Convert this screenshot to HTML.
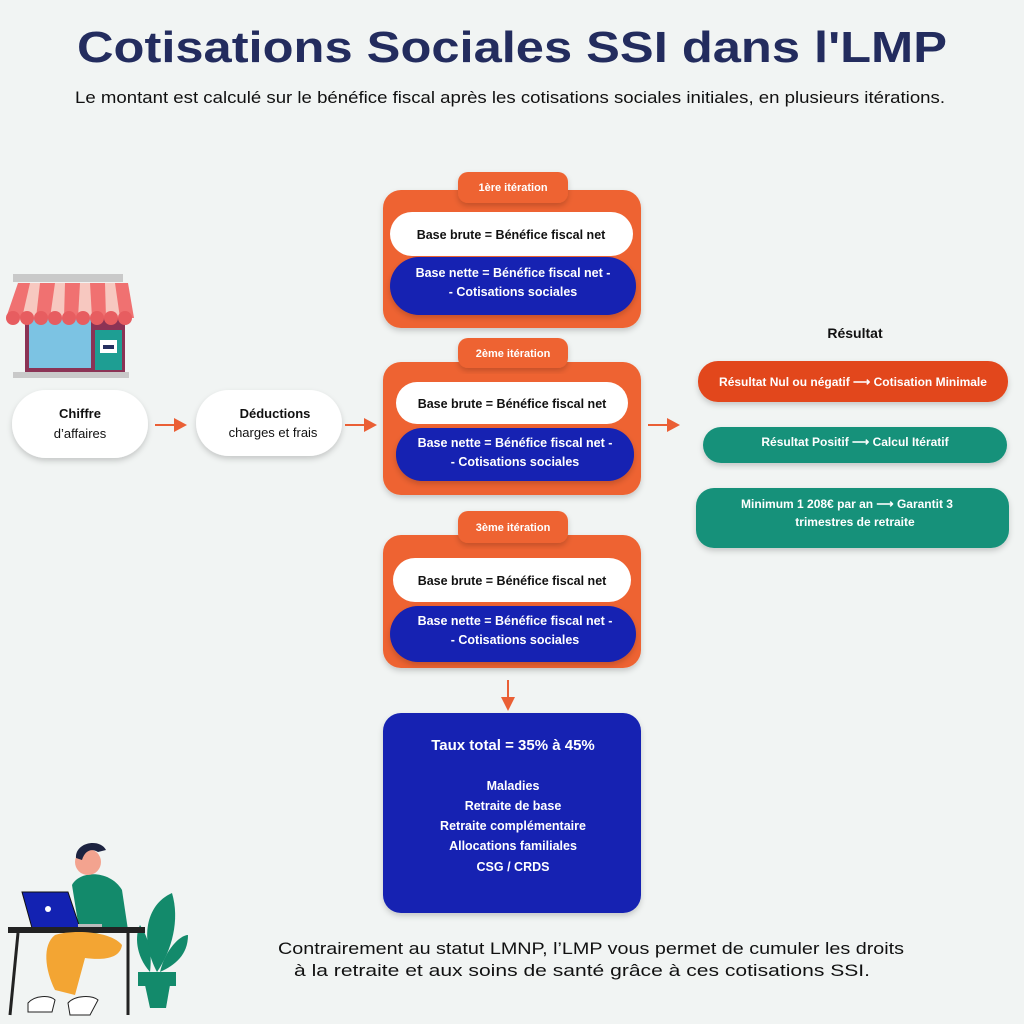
<!DOCTYPE html>
<html><head><meta charset="utf-8"><style>
html,body{margin:0;padding:0;background:#f1f4f3}
svg{display:block}
text{font-family:"Liberation Sans",sans-serif}
</style></head><body>
<svg width="1024" height="1024" viewBox="0 0 1024 1024" xmlns="http://www.w3.org/2000/svg">
<defs>
<filter id="sh" x="-10%" y="-10%" width="120%" height="130%"><feDropShadow dx="0" dy="3" stdDeviation="3" flood-color="#000" flood-opacity="0.18"/></filter>
</defs>
<rect width="1024" height="1024" fill="#f1f4f3"/>
<text x="512" y="62" text-anchor="middle" font-size="44" font-weight="bold" fill="#232c5e" textLength="870" lengthAdjust="spacingAndGlyphs">Cotisations Sociales SSI dans l'LMP</text>
<text x="510" y="103" text-anchor="middle" font-size="17" fill="#111" textLength="870" lengthAdjust="spacingAndGlyphs">Le montant est calculé sur le bénéfice fiscal après les cotisations sociales initiales, en plusieurs itérations.</text>

<!-- shop -->
<rect x="13" y="274" width="110" height="8" fill="#c9c9c9"/>
<rect x="25" y="305" width="100" height="68" fill="#8b3355"/>
<rect x="29" y="318" width="62" height="50" fill="#7cc3e3"/>
<rect x="95" y="330" width="27" height="40" fill="#1e9e93"/>
<rect x="100" y="340" width="17" height="13" fill="#fff"/><rect x="103" y="345" width="11" height="4" fill="#263060"/>
<rect x="13" y="372" width="116" height="6" fill="#c9c9c9"/>
<path d="M18 283 L128 283 L134 318 L6 318 Z" fill="#f07171"/>
<g fill="#f7c8c0"><path d="M30 283 L40 283 L36 318 L22 318Z"/><path d="M55 283 L65 283 L64 318 L50 318Z"/><path d="M80 283 L90 283 L92 318 L78 318Z"/><path d="M105 283 L115 283 L120 318 L106 318Z"/></g>
<g fill="#e75d60"><circle cx="13" cy="318" r="7"/><circle cx="27" cy="318" r="7"/><circle cx="41" cy="318" r="7"/><circle cx="55" cy="318" r="7"/><circle cx="69" cy="318" r="7"/><circle cx="83" cy="318" r="7"/><circle cx="97" cy="318" r="7"/><circle cx="111" cy="318" r="7"/><circle cx="125" cy="318" r="7"/></g>

<!-- left pills -->
<rect x="12" y="390" width="136" height="68" rx="34" fill="#fff" filter="url(#sh)"/>
<text x="80" y="418" text-anchor="middle" font-size="13" font-weight="bold" fill="#111">Chiffre</text>
<text x="80" y="438" text-anchor="middle" font-size="13" fill="#111">d’affaires</text>
<rect x="196" y="390" width="146" height="66" rx="33" fill="#fff" filter="url(#sh)"/>
<text x="275" y="418" text-anchor="middle" font-size="13" font-weight="bold" fill="#111">Déductions</text>
<text x="273" y="437" text-anchor="middle" font-size="13" fill="#111">charges et frais</text>

<!-- arrows -->
<g stroke="#ea5f35" stroke-width="2"><line x1="155" y1="425" x2="176" y2="425"/><line x1="345" y1="425" x2="366" y2="425"/><line x1="648" y1="425" x2="669" y2="425"/><line x1="508" y1="680" x2="508" y2="700"/></g>
<g fill="#ea5f35"><path d="M174 418 L187 425 L174 432Z"/><path d="M364 418 L377 425 L364 432Z"/><path d="M667 418 L680 425 L667 432Z"/><path d="M501 697 L508 711 L515 697Z"/></g>

<!-- iteration 1 -->
<rect x="383" y="190" width="258" height="138" rx="18" fill="#ee6331" filter="url(#sh)"/>
<rect x="458" y="172" width="110" height="31" rx="10" fill="#ee6331" filter="url(#sh)"/>
<text x="513" y="191" text-anchor="middle" font-size="11" font-weight="bold" fill="#fff">1ère itération</text>
<rect x="390" y="212" width="243" height="44" rx="22" fill="#fff"/>
<text x="511" y="239" text-anchor="middle" font-size="12.5" font-weight="bold" fill="#111">Base brute = Bénéfice fiscal net</text>
<rect x="390" y="257" width="246" height="58" rx="29" fill="#1322b2" filter="url(#sh)"/>
<text x="513" y="277" text-anchor="middle" font-size="12.5" font-weight="bold" fill="#fff">Base nette = Bénéfice fiscal net -</text>
<text x="513" y="296" text-anchor="middle" font-size="12.5" font-weight="bold" fill="#fff">- Cotisations sociales</text>

<!-- iteration 2 -->
<rect x="383" y="362" width="258" height="133" rx="18" fill="#ee6331" filter="url(#sh)"/>
<rect x="458" y="338" width="110" height="30" rx="10" fill="#ee6331" filter="url(#sh)"/>
<text x="513" y="357" text-anchor="middle" font-size="11" font-weight="bold" fill="#fff">2ème itération</text>
<rect x="396" y="382" width="232" height="42" rx="21" fill="#fff"/>
<text x="512" y="408" text-anchor="middle" font-size="12.5" font-weight="bold" fill="#111">Base brute = Bénéfice fiscal net</text>
<rect x="396" y="428" width="238" height="53" rx="26" fill="#1322b2" filter="url(#sh)"/>
<text x="515" y="447" text-anchor="middle" font-size="12.5" font-weight="bold" fill="#fff">Base nette = Bénéfice fiscal net -</text>
<text x="515" y="466" text-anchor="middle" font-size="12.5" font-weight="bold" fill="#fff">- Cotisations sociales</text>

<!-- iteration 3 -->
<rect x="383" y="535" width="258" height="133" rx="18" fill="#ee6331" filter="url(#sh)"/>
<rect x="458" y="511" width="110" height="32" rx="10" fill="#ee6331" filter="url(#sh)"/>
<text x="513" y="531" text-anchor="middle" font-size="11" font-weight="bold" fill="#fff">3ème itération</text>
<rect x="393" y="558" width="238" height="44" rx="22" fill="#fff"/>
<text x="512" y="585" text-anchor="middle" font-size="12.5" font-weight="bold" fill="#111">Base brute = Bénéfice fiscal net</text>
<rect x="390" y="606" width="246" height="56" rx="28" fill="#1322b2" filter="url(#sh)"/>
<text x="515" y="625" text-anchor="middle" font-size="12.5" font-weight="bold" fill="#fff">Base nette = Bénéfice fiscal net -</text>
<text x="515" y="644" text-anchor="middle" font-size="12.5" font-weight="bold" fill="#fff">- Cotisations sociales</text>

<!-- total -->
<rect x="383" y="713" width="258" height="200" rx="18" fill="#1322b2" filter="url(#sh)"/>
<text x="513" y="750" text-anchor="middle" font-size="15" font-weight="bold" fill="#fff">Taux total = 35% à 45%</text>
<g font-size="12.5" font-weight="bold" fill="#fff" text-anchor="middle">
<text x="513" y="790">Maladies</text>
<text x="513" y="810">Retraite de base</text>
<text x="513" y="830">Retraite complémentaire</text>
<text x="513" y="850">Allocations familiales</text>
<text x="513" y="871">CSG / CRDS</text>
</g>

<!-- results -->
<text x="855" y="338" text-anchor="middle" font-size="14" font-weight="bold" fill="#111">Résultat</text>
<rect x="698" y="361" width="310" height="41" rx="20" fill="#e2461c" filter="url(#sh)"/>
<text x="853" y="386" text-anchor="middle" font-size="12" font-weight="bold" fill="#fff">Résultat Nul ou négatif  ⟶ Cotisation Minimale</text>
<rect x="703" y="427" width="304" height="36" rx="18" fill="#14917a" filter="url(#sh)"/>
<text x="855" y="446" text-anchor="middle" font-size="12" font-weight="bold" fill="#fff">Résultat Positif  ⟶ Calcul Itératif</text>
<rect x="696" y="488" width="313" height="60" rx="18" fill="#14917a" filter="url(#sh)"/>
<text x="847" y="508" text-anchor="middle" font-size="12" font-weight="bold" fill="#fff">Minimum 1 208€ par an ⟶ Garantit 3</text>
<text x="855" y="526" text-anchor="middle" font-size="12" font-weight="bold" fill="#fff">trimestres de retraite</text>

<!-- bottom text -->
<text x="591" y="954" text-anchor="middle" font-size="17" fill="#111" textLength="626" lengthAdjust="spacingAndGlyphs">Contrairement au statut LMNP, l’LMP vous permet de cumuler les droits</text>
<text x="582" y="976" text-anchor="middle" font-size="17" fill="#111" textLength="576" lengthAdjust="spacingAndGlyphs">à la retraite et aux soins de santé grâce à ces cotisations SSI.</text>

<!-- person illustration -->
<g>
<path d="M150 1008 L145 985 L170 985 L166 1008Z" fill="#138a6b"/>
<rect x="138" y="972" width="38" height="14" fill="#138a6b"/>
<path d="M157 972 C140 940 145 905 172 893 C180 920 172 950 157 972Z" fill="#138a6b"/>
<path d="M160 972 C165 950 180 935 188 935 C188 955 175 965 160 972Z" fill="#138a6b"/>
<path d="M150 972 C135 955 135 935 140 925 C150 940 152 955 150 972Z" fill="#138a6b"/>
<path d="M72 885 C80 870 110 870 122 890 L128 930 L80 935Z" fill="#138a6b"/>
<circle cx="88" cy="862" r="13" fill="#f3a38f"/>
<path d="M76 858 C75 842 100 838 106 850 L98 852 C92 848 85 850 82 860Z" fill="#1d2340"/>
<path d="M22 892 L68 892 L80 928 L32 928Z" fill="#1322b2" stroke="#111" stroke-width="1"/>
<circle cx="48" cy="909" r="3" fill="#fff"/>
<rect x="78" y="924" width="24" height="3" fill="#bbb"/>
<rect x="8" y="927" width="137" height="6" fill="#222"/>
<line x1="18" y1="933" x2="10" y2="1015" stroke="#222" stroke-width="3"/>
<line x1="128" y1="933" x2="128" y2="1015" stroke="#222" stroke-width="3"/>
<path d="M55 935 C70 930 110 930 122 945 C120 960 100 960 85 958 L75 995 L55 990 C45 970 42 945 55 935Z" fill="#f3a533"/>
<path d="M28 1003 C35 995 50 995 55 1000 L52 1012 L28 1012Z" fill="#fff" stroke="#222"/>
<path d="M68 1003 C75 995 92 995 98 1000 L90 1015 L70 1015Z" fill="#fff" stroke="#222"/>
</g>
</svg>
</body></html>
